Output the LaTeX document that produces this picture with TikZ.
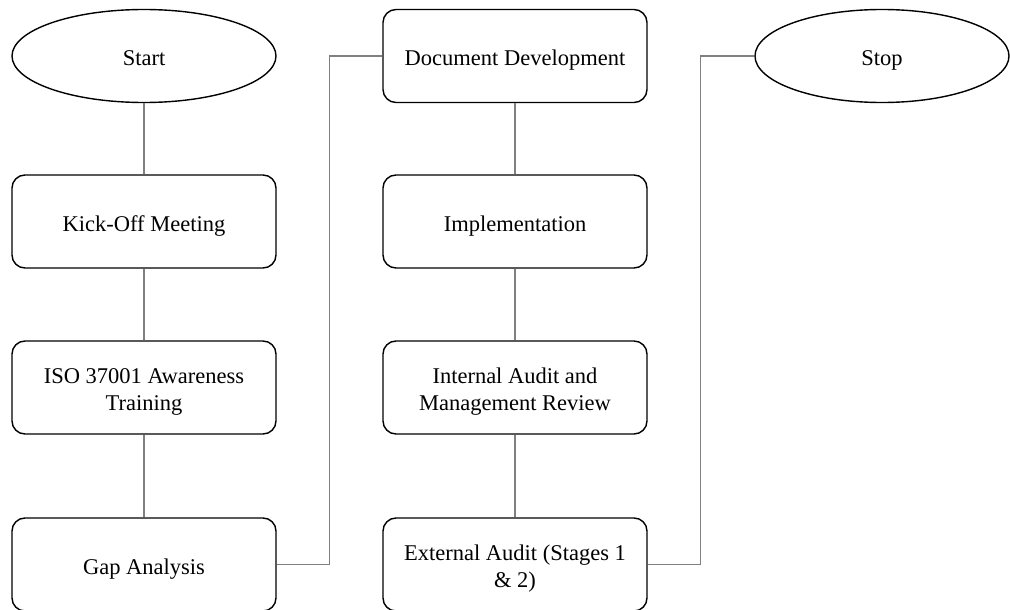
\documentclass[tikz,border=0pt]{standalone}
\usepackage{fontspec}
\setmainfont{Liberation Serif}
\usetikzlibrary{shapes.geometric}
\tikzset{
  stepbox/.style={draw,rounded corners=13pt,line width=1.4pt,minimum width=264pt,minimum height=93pt,align=center,text height=22pt,text depth=2pt,font=\fontsize{22.5}{27}\selectfont},
  twoline/.style={text height=47pt,text depth=2pt},
  termnode/.style={draw,ellipse,line width=1.4pt,minimum height=93pt,inner sep=0pt,text height=22pt,text depth=2pt,font=\fontsize{22.5}{27}\selectfont},
  link/.style={draw=gray,line width=1.5pt}
}
\begin{document}
\begin{tikzpicture}[x=1pt,y=-1pt]
                \useasboundingbox (0,0) rectangle (1010,610);
                % left column
                \node[termnode,minimum width=264pt] (start) at (144, 56) {Start};
                \node[stepbox] (kickoff) at (144, 221.5) {Kick-Off Meeting};
                \node[stepbox,twoline] (training) at (144, 387.5) {ISO 37001 Awareness\\Training};
                \node[stepbox] (gap) at (144, 564.5) {Gap Analysis};
                % middle column
                \node[stepbox] (docdev) at (515, 56) {Document Development};
                \node[stepbox] (impl) at (515, 221.5) {Implementation};
                \node[stepbox,twoline] (intaudit) at (515, 387.5) {Internal Audit and\\Management Review};
                \node[stepbox,twoline] (extaudit) at (515, 564.5) {External Audit (Stages 1\\\& 2)};
                % right column
                \node[termnode,minimum width=254pt] (stop) at (882, 56) {Stop};

                \draw[link] (start) -- (kickoff);
                \draw[link] (kickoff) -- (training);
                \draw[link] (training) -- (gap);
                \draw[link] (gap.east) -- ++(53,0) |- (docdev.west);
                \draw[link] (docdev) -- (impl);
                \draw[link] (impl) -- (intaudit);
                \draw[link] (intaudit) -- (extaudit);
                \draw[link] (extaudit.east) -- ++(53,0) |- (stop.west);
            \end{tikzpicture}
\end{document}
